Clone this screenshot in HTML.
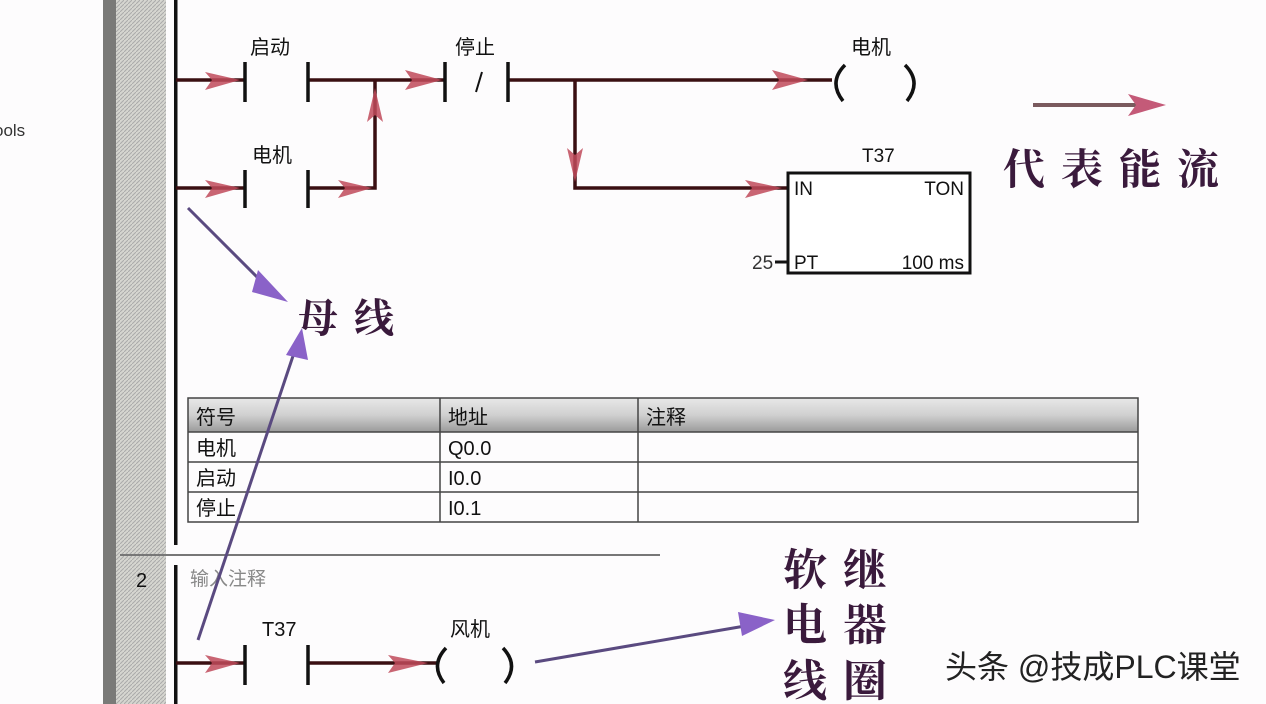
<!DOCTYPE html>
<html><head><meta charset="utf-8"><style>
html,body{margin:0;padding:0;background:#fff;}
svg{display:block;}
text{font-family:"Liberation Sans","Noto Sans CJK SC",sans-serif;}
.cj{font-family:"Noto Serif CJK SC","Liberation Serif",serif;fill:#3a1a3c;font-weight:bold;}
</style></head><body>
<svg width="1266" height="704" viewBox="0 0 1266 704" xmlns="http://www.w3.org/2000/svg">
<defs>
<pattern id="h" width="4" height="4" patternUnits="userSpaceOnUse">
<rect width="4" height="4" fill="#d6d6d0"/><path d="M0 4L4 0" stroke="#aaa" stroke-width="1"/>
</pattern>
<linearGradient id="g" x1="0" y1="0" x2="0" y2="1">
<stop offset="0" stop-color="#e8e8e8"/><stop offset="0.5" stop-color="#d0d0d0"/><stop offset="1" stop-color="#9a9a9a"/>
</linearGradient>
</defs>
<rect x="0" y="0" width="1266" height="704" fill="#fdfcfd"/>
<text x="-6" y="136" font-size="17" fill="#333">ools</text>
<rect x="103" y="0" width="13" height="704" fill="#7a7a78"/>
<rect x="116" y="0" width="50" height="704" fill="url(#h)"/>
<rect x="174" y="0" width="3.5" height="545" fill="#111"/>
<rect x="174" y="565" width="3.5" height="139" fill="#111"/>
<line x1="120" y1="555" x2="660" y2="555" stroke="#777" stroke-width="2"/>
<text x="136" y="587" font-size="20" fill="#111">2</text>
<text x="190" y="585" font-size="19" fill="#888">输入注释</text>

<g stroke="#3a0f12" stroke-width="3.5" fill="none">
<path d="M176 80H245M308 80H445M508 80H832"/>
<path d="M176 188H245M308 188H375V80"/>
<path d="M575 80V188H788"/>
<path d="M176 663H245M308 663H437"/>
</g>
<g stroke="#111" stroke-width="3.5">
<path d="M245 62V102M308 62V102M445 62V102M508 62V102"/>
<path d="M245 170V208M308 170V208"/>
<path d="M245 645V685M308 645V685"/>
</g>
<path d="M482 72L476 92" stroke="#111" stroke-width="2"/>
<g stroke="#111" stroke-width="3.5" fill="none">
<path d="M845 65Q828 82 843 101M905 65Q922 82 907 101"/>
<path d="M446 648Q430 665 444 683M503 648Q519 665 505 683"/>
</g>
<text x="250" y="54" font-size="20" fill="#111">启动</text>
<text x="455" y="54" font-size="20" fill="#111">停止</text>
<text x="851" y="54" font-size="20" fill="#111">电机</text>
<text x="252" y="162" font-size="20" fill="#111">电机</text>
<text x="262" y="636" font-size="20" fill="#111">T37</text>
<text x="450" y="636" font-size="20" fill="#111">风机</text>
<rect x="788" y="173" width="182" height="100" fill="#fff" stroke="#111" stroke-width="3"/>
<text x="862" y="162" font-size="19" fill="#111">T37</text>
<text x="794" y="195" font-size="19" fill="#111">IN</text>
<text x="964" y="195" font-size="19" fill="#111" text-anchor="end">TON</text>
<text x="794" y="269" font-size="19" fill="#111">PT</text>
<text x="964" y="269" font-size="19" fill="#111" text-anchor="end">100 ms</text>
<text x="752" y="269" font-size="19" fill="#333">25</text>
<line x1="775" y1="262" x2="788" y2="262" stroke="#111" stroke-width="3"/>

<g fill="#c04a5a" opacity="0.85">
<path d="M205 72L240 80L205 90L212 80Z"/>
<path d="M405 70L442 80L405 90L412 80Z"/>
<path d="M772 70L808 80L772 90L779 80Z"/>
<path d="M205 180L240 188L205 198L212 188Z"/>
<path d="M338 180L372 188L338 198L345 188Z"/>
<path d="M367 122L375 88L383 122L375 115Z"/>
<path d="M567 148L575 182L583 148L575 155Z"/>
<path d="M745 180L782 188L745 198L752 188Z"/>
<path d="M205 655L240 663L205 673L212 663Z"/>
<path d="M388 655L428 663L388 673L395 663Z"/>
</g>
<line x1="1033" y1="105" x2="1140" y2="105" stroke="#7a5a5e" stroke-width="4"/>
<path d="M1128 94L1166 105L1128 116L1136 105Z" fill="#c45a78"/>
<text class="cj" x="1003" y="184" font-size="42" letter-spacing="16">代表能流</text>
<text class="cj" x="298" y="332" font-size="40" letter-spacing="16">母线</text>

<rect x="188" y="398" width="950" height="34" fill="url(#g)"/>
<g stroke="#444" stroke-width="1.5" fill="none">
<rect x="188" y="398" width="950" height="124"/>
<path d="M188 432H1138M188 462H1138M188 492H1138M440 398V522M638 398V522"/>
</g>
<g font-size="20" fill="#111">
<text x="196" y="424">符号</text><text x="448" y="424">地址</text><text x="646" y="424">注释</text>
<text x="196" y="455">电机</text><text x="448" y="455">Q0.0</text>
<text x="196" y="485">启动</text><text x="448" y="485">I0.0</text>
<text x="196" y="515">停止</text><text x="448" y="515">I0.1</text>
</g>

<g stroke="#5a4a80" stroke-width="3" fill="none">
<path d="M188 208L270 290"/>
<path d="M198 640L295 350"/>
<path d="M535 662L745 626"/>
</g>
<g fill="#8a62c8">
<path d="M258 270L288 302L252 292Z"/>
<path d="M286 355L302 328L308 360Z"/>
<path d="M738 612L775 620L742 636Z"/>
</g>
<text class="cj" x="783" y="585" font-size="44">软</text>
<text class="cj" x="843" y="585" font-size="44">继</text>
<text class="cj" x="783" y="640" font-size="44">电</text>
<text class="cj" x="843" y="640" font-size="44">器</text>
<text class="cj" x="783" y="696" font-size="44">线</text>
<text class="cj" x="843" y="696" font-size="44">圈</text>
<text x="945" y="678" font-size="32" fill="#222">头条 @技成PLC课堂</text>
</svg>
</body></html>
